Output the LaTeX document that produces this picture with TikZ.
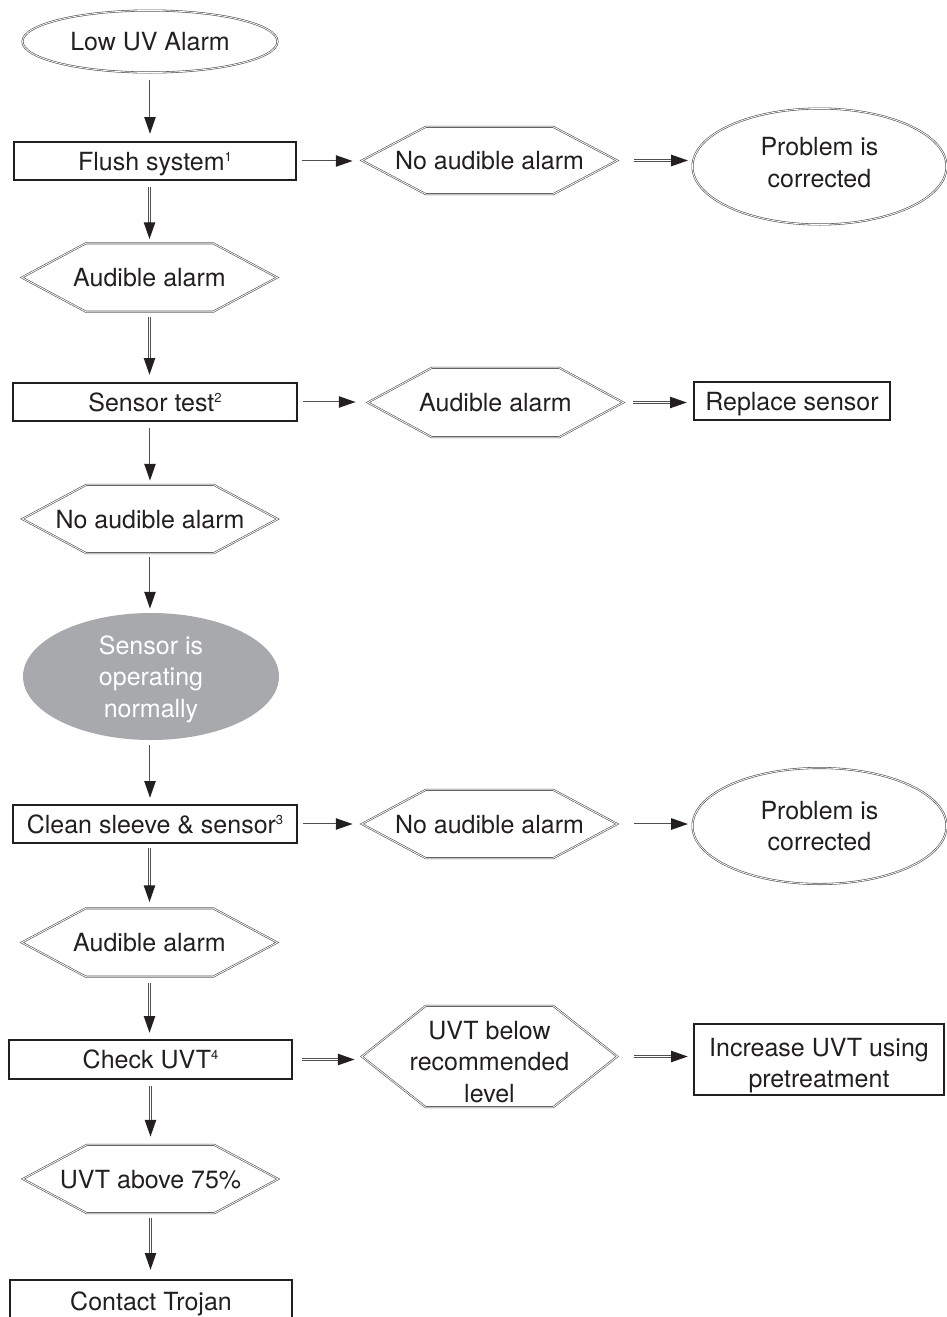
\documentclass[tikz,border=0pt]{standalone}
\usepackage{fontspec}
\setmainfont{TeX Gyre Heros}
\usetikzlibrary{arrows.meta,shapes.geometric,calc}
\definecolor{ink}{HTML}{231F20}
\definecolor{lg}{HTML}{A7A9AC}
\definecolor{ln}{HTML}{505052}
\newcommand\sups[1]{\raisebox{8.8pt}{\fontsize{13}{13}\selectfont #1}}
\newcommand\hexa[1]{\draw[dbl] (#1.west) -- ([xshift=64pt]#1.north west) -- ([xshift=-64pt]#1.north east) -- (#1.east) -- ([xshift=-64pt]#1.south east) -- ([xshift=64pt]#1.south west) -- cycle;}
\tikzset{
  base/.style={text=ink, font=\fontsize{25}{31.5}\selectfont, align=center, inner sep=0pt},
  one/.style={text height=18pt, text depth=0pt},
  dbl/.style={draw=ln, line width=0.6pt, double=white, double distance=0.8pt},
  boxnode/.style={base, one, rectangle, draw=ink, line width=2pt},
  ellnode/.style={base, ellipse, dbl},
  hexnode/.style={base, rectangle},
  arr/.style n args={2}{draw=ln, line width=2.4pt, shorten <=#1, shorten >=#2,
     -{Triangle[length=17pt,width=11pt,color=ink]},
     postaction={draw=white, line width=0.8pt, -, shorten <=#1, shorten >=#2+17pt}}
}
\begin{document}
\begin{tikzpicture}[x=1pt,y=-1pt]
\useasboundingbox (0,0) rectangle (946,1317);
% left column
\node[ellnode, one, minimum width=255pt, minimum height=62pt] (low) at (150,41.5) {Low UV Alarm};
\node[boxnode, minimum width=282pt, minimum height=38pt] (flush) at (155,161) {Flush system\sups{1}};
\node[hexnode, one, minimum width=255pt, minimum height=68pt] (aud1) at (149.5,277.5) {Audible alarm};
\node[boxnode, minimum width=284pt, minimum height=38pt] (sensor) at (155,402) {Sensor test\sups{2}};
\node[hexnode, one, minimum width=255pt, minimum height=68pt] (noaud1) at (150,519) {No audible alarm};
\node[base, ellipse, fill=lg, text=white, text depth=0pt, minimum width=256pt, minimum height=127pt] (sensorok) at (151,676.5) {Sensor is\\operating\\normally};
\node[boxnode, minimum width=284pt, minimum height=38pt] (clean) at (155,824) {Clean sleeve \& sensor\sups{3}};
\node[hexnode, one, minimum width=255pt, minimum height=68pt] (aud2) at (149.5,942.5) {Audible alarm};
\node[boxnode, minimum width=283pt, minimum height=39pt] (check) at (150.5,1059.5) {Check UVT\sups{4}};
\node[hexnode, one, minimum width=255pt, minimum height=68pt] (above) at (150.5,1179) {UVT above 75\%};
\node[boxnode, minimum width=282pt, minimum height=42pt] (contact) at (151,1301) {Contact Trojan};
% right column
\node[hexnode, one, minimum width=255pt, minimum height=67pt] (noaudR1) at (489.5,160.5) {No audible alarm};
\node[ellnode, text depth=8pt, minimum width=254pt, minimum height=116pt] (prob1) at (819.5,166.5) {Problem is\\corrected};
\node[hexnode, one, minimum width=255pt, minimum height=69pt] (audR) at (495.5,402.5) {Audible alarm};
\node[boxnode, minimum width=196pt, minimum height=38pt] (replace) at (792,401) {Replace sensor};
\node[hexnode, one, minimum width=255pt, minimum height=68pt] (noaudR2) at (489.5,824) {No audible alarm};
\node[ellnode, minimum width=254pt, minimum height=116pt] (prob2) at (819.5,826) {Problem is\\corrected};
\node[hexnode, text height=91pt, text depth=0pt, minimum width=255pt, minimum height=101pt] (below) at (489.5,1056.5) {UVT below\\recommended\\level};
\node[base, rectangle, draw=ink, line width=2pt, text height=56pt, text depth=0pt, minimum width=250pt, minimum height=71pt] (increase) at (819,1059.5) {Increase UVT using\\pretreatment};
% hexagon outlines
\hexa{aud1}\hexa{noaud1}\hexa{aud2}\hexa{above}
\hexa{noaudR1}\hexa{audR}\hexa{noaudR2}\hexa{below}
% vertical connectors
\draw[arr={7pt}{7pt}] (low.south) -- (low.south |- flush.north);
\draw[arr={6pt}{4pt}] (aud1.north |- flush.south) -- (aud1.north);
\draw[arr={5pt}{7pt}] (aud1.south) -- (aud1.south |- sensor.north);
\draw[arr={6pt}{4pt}] (noaud1.north |- sensor.south) -- (noaud1.north);
\draw[arr={4pt}{4pt}] (noaud1.south) -- (noaud1.south |- sensorok.north);
\draw[arr={5pt}{6pt}] (sensorok.south -| noaud1.south) -- (noaud1.south |- clean.north);
\draw[arr={4pt}{6pt}] (aud2.north |- clean.south) -- (aud2.north);
\draw[arr={6pt}{6pt}] (aud2.south) -- (aud2.south |- check.north);
\draw[arr={6pt}{8pt}] (above.north |- check.south) -- (above.north);
\draw[arr={5pt}{9pt}] (above.south) -- (above.south |- contact.north);
% horizontal connectors
\draw[arr={5pt}{9pt}] (flush.east) -- (flush.east -| noaudR1.west);
\draw[arr={17pt}{4pt}] (noaudR1.east) -- (noaudR1.east -| prob1.west);
\draw[arr={5pt}{12pt}] (sensor.east) -- (sensor.east -| audR.west);
\draw[arr={10pt}{6pt}] (audR.east) -- (audR.east -| replace.west);
\draw[arr={5pt}{9pt}] (clean.east) -- (clean.east -| noaudR2.west);
\draw[arr={17pt}{4pt}] (noaudR2.east) -- (noaudR2.east -| prob2.west);
\draw[arr={9pt}{7pt}] (check.east) -- (check.east -| below.west);
\draw[arr={17pt}{5pt}] (below.east) -- (below.east -| increase.west);
\end{tikzpicture}
\end{document}
